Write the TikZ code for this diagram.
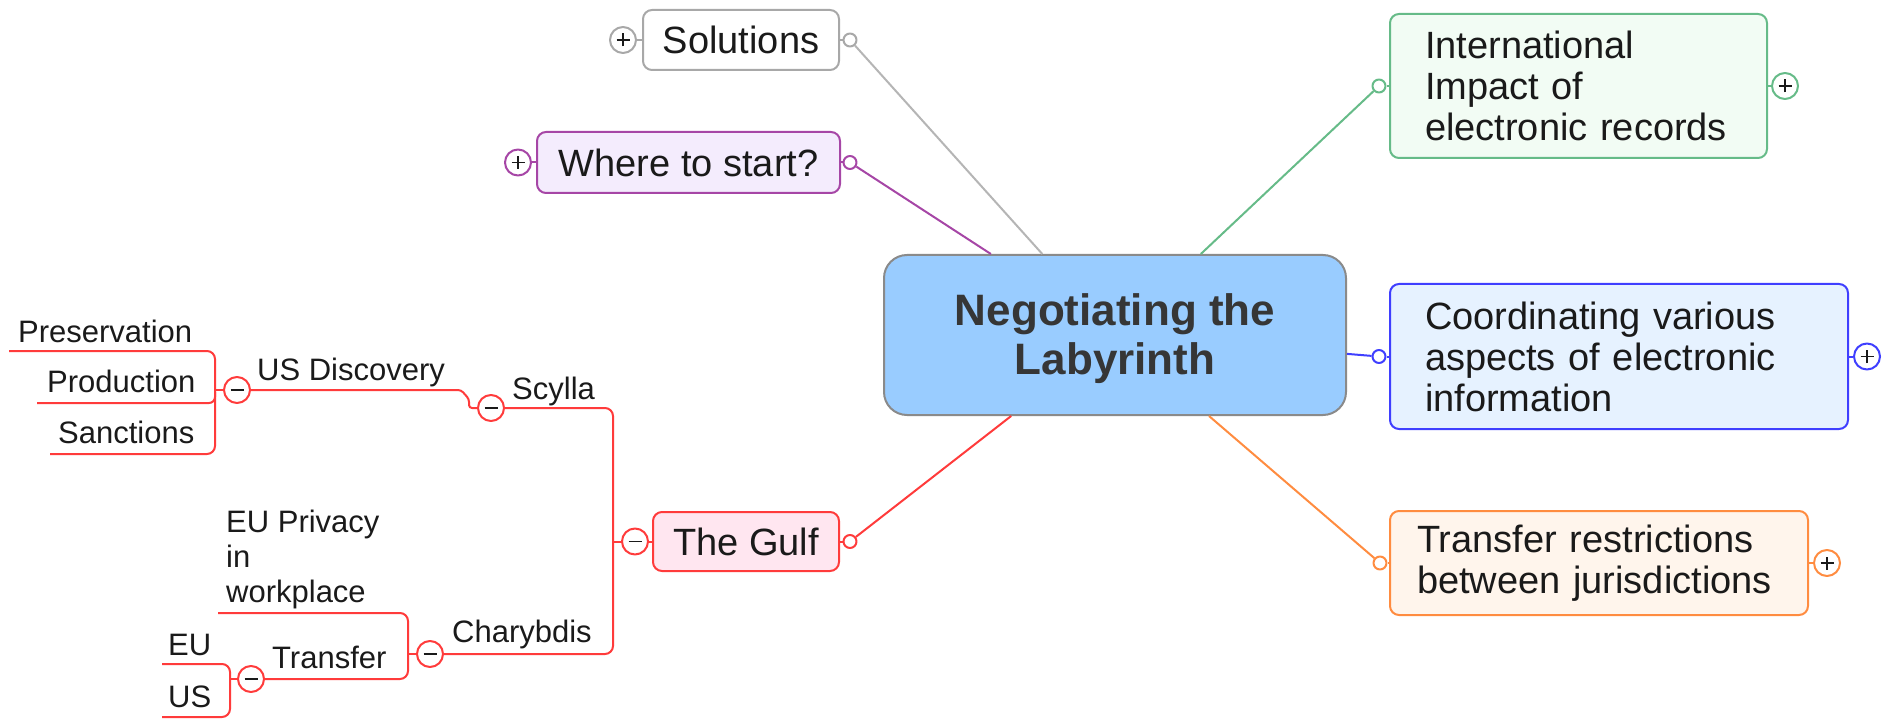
\documentclass[tikz,border=0pt]{standalone}
\usepackage{fontspec}
\setmainfont{Liberation Sans}
\definecolor{textc}{HTML}{1A1A1A}
\definecolor{darkt}{HTML}{363636}
\definecolor{centerfill}{HTML}{99CCFF}
\definecolor{centerdraw}{HTML}{8A8A8A}
\definecolor{graydraw}{HTML}{A8A8A8}
\definecolor{purpdraw}{HTML}{A646A6}
\definecolor{purpfill}{HTML}{F4ECFD}
\definecolor{greendraw}{HTML}{66BB88}
\definecolor{greenfill}{HTML}{F2FCF4}
\definecolor{bluedraw}{HTML}{3F3FFF}
\definecolor{bluefill}{HTML}{E6F2FF}
\definecolor{orangedraw}{HTML}{FF8C40}
\definecolor{orangefill}{HTML}{FFF5EC}
\definecolor{reddraw}{HTML}{FF3B3B}
\definecolor{redfill}{HTML}{FFE6F0}
\begin{document}
\begin{tikzpicture}[x=1pt,y=-1pt,line join=round]
\tikzset{
  small/.style={font=\fontsize{31}{35}\selectfont, text=textc, inner sep=0pt},
  topic/.style={draw, rounded corners=9pt, line width=2pt, inner sep=0pt,
    font=\fontsize{38}{41}\selectfont, text=textc},
  hollow/.style={circle, draw, fill=white, minimum size=13pt, inner sep=0pt, line width=2pt},
  pmc/.style={circle, draw, fill=white, minimum size=26pt, inner sep=0pt, line width=2pt},
  plusc/.style={pmc, path picture={
    \draw[textc, line width=1.8pt]
      ([xshift=-6.5pt]path picture bounding box.center) -- ([xshift=6.5pt]path picture bounding box.center)
      ([yshift=-6.5pt]path picture bounding box.center) -- ([yshift=6.5pt]path picture bounding box.center);}},
  minusc/.style={pmc, path picture={
    \draw[textc, line width=1.8pt]
      ([xshift=-6.5pt]path picture bounding box.center) -- ([xshift=6.5pt]path picture bounding box.center);}},
  conn/.style={line width=2pt},
  redl/.style={line width=2pt, draw=reddraw},
}
\useasboundingbox (0,0) rectangle (1893,719);

% central topic
\node[draw=centerdraw, fill=centerfill, rounded corners=23pt, line width=2pt,
  minimum width=462pt, minimum height=160pt, inner sep=0pt, align=center,
  font=\bfseries\fontsize{44}{49}\selectfont, text=darkt] (center) at (1115,335)
  {\rule{0pt}{40pt}Negotiating the\\Labyrinth};

% Solutions
\node[topic, draw=graydraw, fill=white, minimum width=196pt, minimum height=60pt] (sol) at (741,40) {Solutions};
\node[plusc, draw=graydraw] (solp) at (623,40) {};
\node[hollow, draw=graydraw] (solc) at (850,40) {};
\draw[conn, draw=graydraw] (solp) -- (sol);
\draw[conn, draw=graydraw] (sol) -- (solc);
\draw[conn, draw=graydraw!85] (solc) -- (center);

% Where to start?
\node[topic, draw=purpdraw, fill=purpfill, minimum width=303pt, minimum height=61pt] (where) at (688.5,162.5) {Where to start?};
\node[plusc, draw=purpdraw] (wherep) at (518,162.5) {};
\node[hollow, draw=purpdraw] (wherec) at (850,162.5) {};
\draw[conn, draw=purpdraw] (wherep) -- (where);
\draw[conn, draw=purpdraw] (where) -- (wherec);
\draw[conn, draw=purpdraw] (wherec) -- (center);

% International
\node[topic, draw=greendraw, fill=greenfill, minimum width=377pt, minimum height=144pt,
  text width=307pt, inner xsep=35pt, align=left] (intl) at (1578.5,86)
  {International\\Impact of\\electronic records};
\node[plusc, draw=greendraw] (intlp) at (1785,86) {};
\node[hollow, draw=greendraw] (intlc) at (1379,86) {};
\draw[conn, draw=greendraw] (intl) -- (intlp);
\draw[conn, draw=greendraw] (intlc) -- (intl);
\draw[conn, draw=greendraw] (intlc) -- (center);

% Coordinating
\node[topic, draw=bluedraw, fill=bluefill, minimum width=458pt, minimum height=145pt,
  text width=388pt, inner xsep=35pt, align=left] (coord) at (1619,356.5)
  {Coordinating various\\aspects of electronic\\information};
\node[plusc, draw=bluedraw] (coordp) at (1867,356.5) {};
\node[hollow, draw=bluedraw] (coordc) at (1379,356.5) {};
\draw[conn, draw=bluedraw] (coord) -- (coordp);
\draw[conn, draw=bluedraw] (coordc) -- (coord);
\draw[conn, draw=bluedraw] (coordc) -- (center);

% Transfer restrictions
\node[topic, draw=orangedraw, fill=orangefill, minimum width=418pt, minimum height=104pt,
  text width=364pt, inner xsep=27pt, align=left] (trans) at (1599,563)
  {Transfer restrictions\\between jurisdictions};
\node[plusc, draw=orangedraw] (transp) at (1827,563) {};
\node[hollow, draw=orangedraw] (transc) at (1380,563) {};
\draw[conn, draw=orangedraw] (trans) -- (transp);
\draw[conn, draw=orangedraw] (transc) -- (trans);
\draw[conn, draw=orangedraw] (transc) -- (center);

% The Gulf
\node[topic, draw=reddraw, fill=redfill, minimum width=186pt, minimum height=59pt] (gulf) at (746,541.5) {The Gulf};
\node[minusc, draw=reddraw] (gulfm) at (635,541.5) {};
\node[hollow, draw=reddraw] (gulfc) at (850,541.5) {};
\draw[redl] (gulfm) -- (gulf);
\draw[redl] (gulf) -- (gulfc);
\draw[redl] (gulfc) -- (center);
\coordinate (gj) at (613,541.5);
\draw[redl] (gj) -- (gulfm);

% Scylla / Charybdis
\node[minusc, draw=reddraw] (scm) at (491,408) {};
\node[minusc, draw=reddraw] (chm) at (430,654) {};
\node[small, anchor=base west] (scylla) at (512,399) {Scylla};
\node[small, anchor=base west] (chary) at (452,642) {Charybdis};
\draw[redl, rounded corners=8pt] (scm.east) -- (gj |- scm) -- (gj |- chm) -- (chm.east);

% US Discovery
\node[minusc, draw=reddraw] (usm) at (237,390) {};
\node[small, anchor=base west] (usd) at (257,380) {US Discovery};
\draw[redl, rounded corners=3pt] (usm.east) -- (461,390) -- (469,399) -- (469,408) -- (scm.west);
\node[small, anchor=base west] (pres) at (18,342) {Preservation};
\node[small, anchor=base west] (prod) at (47,392) {Production};
\node[small, anchor=base west] (sanc) at (58,443) {Sanctions};
\coordinate (usj) at (215,390);
\draw[redl] (usj) -- (usm);
\draw[redl, rounded corners=8pt] (9,351) -- (215,351) -- (215,454) -- (50,454);
\draw[redl, rounded corners=6pt] (37,403) -- (215,403) -- (215,392);

% Charybdis children
\node[small, anchor=base west, align=left] (eup) at (226,602) {EU Privacy\\in\\workplace};
\node[minusc, draw=reddraw] (trm) at (251,679) {};
\node[small, anchor=base west] (transfer) at (272,668) {Transfer};
\coordinate (chj) at (408,654);
\draw[redl] (chj) -- (chm);
\draw[redl, rounded corners=8pt] (218,613) -- (408,613) -- (408,679) -- (trm.east);

% Transfer children
\node[small, anchor=base west] (eu) at (168,655) {EU};
\node[small, anchor=base west] (us) at (168,707) {US};
\coordinate (trj) at (230,679);
\draw[redl] (trj) -- (trm);
\draw[redl, rounded corners=8pt] (162,664) -- (230,664) -- (230,717) -- (162,717);
\end{tikzpicture}
\end{document}
